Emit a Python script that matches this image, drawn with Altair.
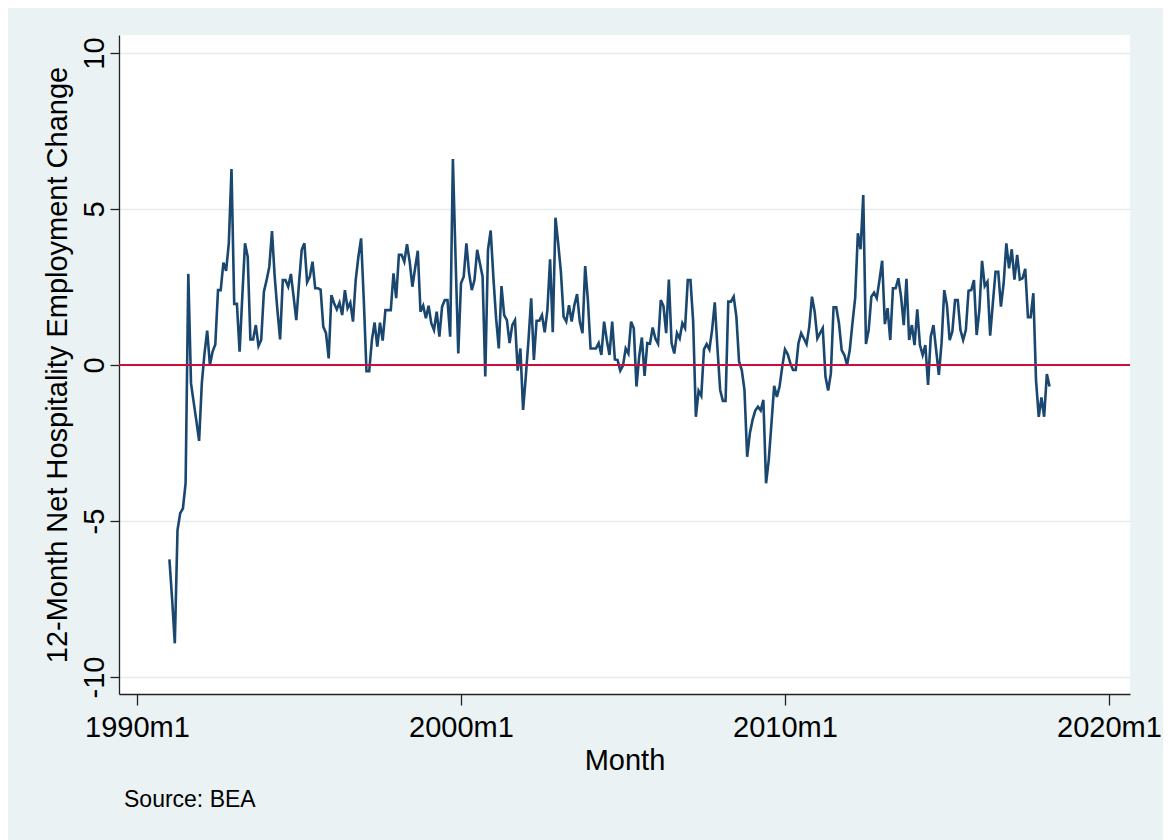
import altair as alt
import pandas as pd

# Monthly series starting 1991m1 (12-month net hospitality employment change)
start_year = 1991
net_change = [
    -6.23, -7.5, -8.92, -5.29, -4.75, -4.6, -3.79, 2.92, -0.59, -1.2, -1.8, -2.43,   # 1991
    -0.59, 0.37, 1.1, 0.0, 0.43, 0.66, 2.4, 2.4, 3.28, 3.02, 3.9, 6.28,              # 1992
    1.96, 1.96, 0.43, 2.2, 3.9, 3.47, 0.82, 0.82, 1.28, 0.61, 0.8, 2.35,             # 1993
    2.72, 3.15, 4.29, 2.83, 1.76, 0.82, 2.72, 2.72, 2.51, 2.92, 2.19, 1.44,          # 1994
    2.62, 3.69, 3.9, 2.65, 2.83, 3.31, 2.46, 2.46, 2.42, 1.23, 1.02, 0.21,           # 1995
    2.24, 1.98, 1.78, 2.0, 1.6, 2.4, 1.82, 2.0, 1.39, 2.72, 3.47, 4.06,              # 1996
    2.08, -0.2, -0.2, 0.8, 1.36, 0.59, 1.36, 0.78, 1.76, 1.76, 1.76, 2.94,           # 1997
    2.14, 3.53, 3.53, 3.31, 3.87, 3.31, 2.51, 3.1, 3.66, 1.71, 1.9, 1.5,             # 1998
    1.9, 1.34, 1.12, 1.71, 0.91, 1.87, 2.08, 2.08, 0.91, 6.6, 3.4, 0.37,             # 1999
    2.62, 2.83, 3.9, 2.94, 2.4, 2.72, 3.69, 3.26, 2.83, -0.37, 3.69, 4.31,           # 2000
    2.8, 1.5, 0.53, 2.53, 1.6, 1.44, 0.7, 1.28, 1.44, -0.18, 0.53, -1.44,            # 2001
    -0.37, 0.8, 2.14, 0.16, 1.42, 1.42, 1.6, 1.05, 1.76, 3.39, 1.05, 4.72,           # 2002
    3.9, 2.99, 1.55, 1.39, 1.92, 1.39, 1.92, 2.27, 1.39, 1.02, 3.17, 2.08,           # 2003
    0.53, 0.53, 0.53, 0.7, 0.32, 1.39, 0.8, 0.32, 1.39, 0.18, 0.16, -0.18,           # 2004
    -0.02, 0.53, 0.37, 1.39, 1.18, -0.69, 0.27, 0.88, -0.35, 0.7, 0.68, 1.2,         # 2005
    0.85, 0.68, 2.08, 1.89, 1.02, 2.74, 0.7, 0.37, 1.02, 0.85, 1.34, 1.18,           # 2006
    2.72, 2.72, 1.39, -1.66, -0.83, -0.99, 0.5, 0.67, 0.5, 1.12, 2.01, 0.53,         # 2007
    -0.8, -1.15, -1.15, 2.03, 2.03, 2.19, 1.55, 0.11, -0.16, -0.8, -2.94, -2.19,     # 2008
    -1.76, -1.46, -1.34, -1.46, -1.12, -3.79, -3.04, -1.87, -0.67, -1.02, -0.69, -0.05,  # 2009
    0.5, 0.35, 0.05, -0.16, -0.16, 0.7, 1.02, 0.85, 0.67, 1.23, 2.19, 1.71,          # 2010
    0.85, 1.02, 1.18, -0.37, -0.82, -0.27, 1.85, 1.85, 1.34, 0.48, 0.32, 0.0,        # 2011
    0.48, 1.34, 2.14, 4.22, 3.71, 5.45, 0.67, 1.12, 2.19, 2.32, 2.14, 2.72,          # 2012
    3.34, 1.31, 1.82, 0.8, 2.46, 2.46, 2.78, 2.19, 1.28, 2.76, 0.8, 1.28,            # 2013
    0.64, 1.78, 0.64, 0.32, 0.64, -0.64, 0.91, 1.28, 0.48, -0.32, 0.7, 2.4,          # 2014
    1.92, 0.8, 1.07, 2.08, 2.08, 1.12, 0.8, 1.12, 2.38, 2.4, 2.72, 0.96,             # 2015
    1.76, 3.34, 2.53, 2.67, 0.94, 1.98, 2.99, 2.99, 1.87, 2.62, 3.9, 3.1,            # 2016
    3.71, 2.74, 3.53, 2.74, 2.78, 3.08, 1.53, 1.53, 2.3, -0.5, -1.66, -1.04,         # 2017
    -1.66, -0.29, -0.69,                                                             # 2018
]

x_tick_years = [1990, 2000, 2010, 2020]
y_ticks = [-10, -5, 0, 5, 10]
reference_line = [0]

df = pd.DataFrame({
    "t": [start_year + i / 12 for i in range(len(net_change))],
    "v": net_change,
})
ref_df = pd.DataFrame({"y": reference_line})

FONT = "Liberation Sans"
NAVY = "#1A476F"
RED = "#C8103A"
BG = "#EAF2F3"

x_scale = alt.Scale(domain=[1989.444, 2020.65], nice=False, zero=False)
y_scale = alt.Scale(domain=[-10.545, 10.577], nice=False, zero=False)

line = alt.Chart(df).mark_line(color=NAVY, strokeWidth=2.6).encode(
    x=alt.X("t:Q", scale=x_scale,
            axis=alt.Axis(values=x_tick_years, labelExpr="datum.value + 'm1'",
                          title="Month", grid=False, tickSize=11,
                          labelPadding=8, titlePadding=4,
                          labelFlush=False, labelOverlap=False)),
    y=alt.Y("v:Q", scale=y_scale,
            axis=alt.Axis(values=y_ticks, labelExpr="'' + datum.value",
                          title="12-Month Net Hospitality Employment Change",
                          grid=True, tickSize=9, labelAngle=270, labelAlign="center",
                          labelBaseline="bottom", labelPadding=1, titlePadding=8,
                          labelFlush=False, labelOverlap=False)),
)

zero = alt.Chart(ref_df).mark_rule(color=RED, strokeWidth=2).encode(y=alt.Y("y:Q", scale=y_scale))

chart = alt.layer(line, zero).properties(
    width=1011,
    height=659,
    background=BG,
    padding={"left": 111, "top": 27, "right": 33, "bottom": 146},
    autosize=alt.AutoSizeParams(type="none"),
    title=alt.TitleParams(text="Source: BEA", orient="bottom", anchor="start", frame="group",
                          font=FONT, fontSize=23, fontWeight="normal",
                          color="#000000", offset=14, dx=5),
).configure_view(
    fill="white", stroke=None,
).configure_axis(
    labelFont=FONT, labelFontSize=29, labelColor="#000000",
    titleFont=FONT, titleFontSize=29, titleFontWeight="normal", titleColor="#000000",
    domainColor="#222222", domainWidth=1.3,
    tickColor="#222222", tickWidth=1.3,
    gridColor="#E3EBED", gridWidth=1.6,
)

chart.save("out.html", embed_options={"renderer": "svg", "actions": False})
